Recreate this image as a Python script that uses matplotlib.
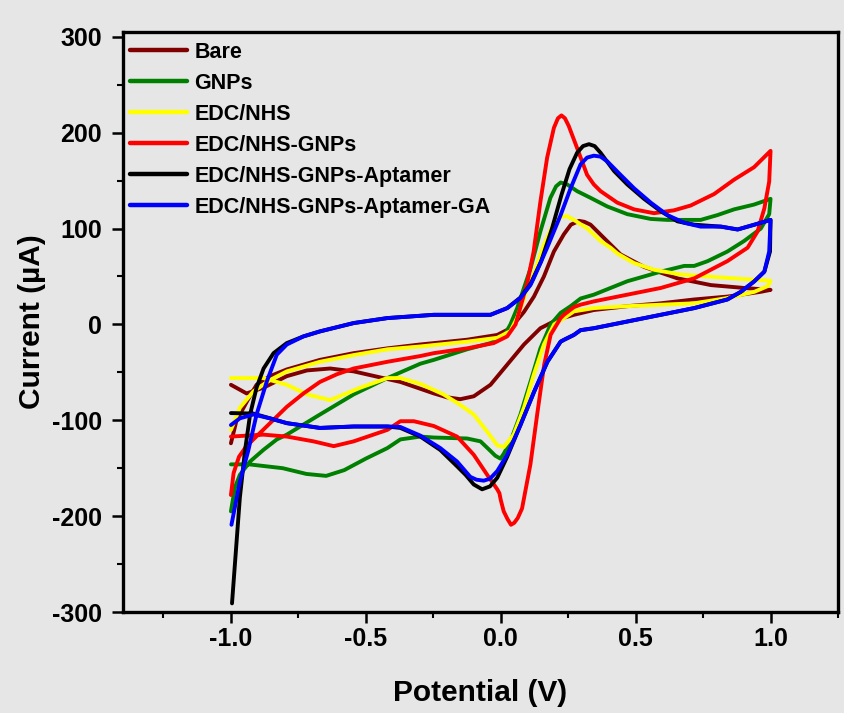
import matplotlib
matplotlib.use("Agg")
import matplotlib.pyplot as plt
from matplotlib.ticker import MultipleLocator, FormatStrFormatter

plt.rcParams['font.family'] = ['Liberation Sans', 'DejaVu Sans']
plt.rcParams['font.weight'] = 'bold'
plt.rcParams['axes.unicode_minus'] = False

# cyclic voltammograms: forward scan (-1 -> 1 V) then reverse scan (1 -> -1 V)
bare_v = [-1.0, -0.98, -0.94, -0.905, -0.855, -0.793, -0.67, -0.545, -0.42, -0.3, -0.125, -0.013,
          0.036, 0.086, 0.123, 0.16, 0.197, 0.234, 0.26, 0.29, 0.31, 0.333, 0.383, 0.444, 0.531, 0.655,
          0.779, 0.902, 1.0,
          0.964, 0.84, 0.717, 0.593, 0.469, 0.345, 0.271, 0.21, 0.147, 0.086, 0.024, -0.038, -0.1,
          -0.15, -0.2, -0.248, -0.372, -0.42, -0.545, -0.632, -0.718, -0.793, -0.879, -0.942, -1.0]
bare_i = [-124, -101, -80, -63, -54, -47, -37, -30, -25, -21, -16, -11,
          -4, 13, 29, 50, 76, 94, 104, 108, 107, 104, 90, 73, 60, 48,
          41, 38, 36,
          34, 29, 26, 22, 19, 15, 10, 5, -4, -21, -42, -63, -75,
          -78, -76, -72, -60, -57, -49, -46, -48, -54, -66, -72, -63]

gnps_v = [-1.0, -0.985, -0.967, -0.929, -0.88, -0.83, -0.793, -0.67, -0.545, -0.42, -0.298, -0.248,
          -0.125, -0.038, 0.011, 0.036, 0.061, 0.086, 0.11, 0.147, 0.184, 0.205, 0.222, 0.246,
          0.283, 0.333, 0.395, 0.469, 0.556, 0.618, 0.741, 0.803, 0.865, 0.939, 1.0,
          0.995, 0.964, 0.902, 0.84, 0.767, 0.717, 0.68, 0.593, 0.469, 0.345, 0.296, 0.259, 0.222,
          0.185, 0.147, 0.11, 0.073, 0.036, 0.011, -0.001, -0.02, -0.038, -0.075, -0.125, -0.248,
          -0.298, -0.372, -0.42, -0.5, -0.58, -0.647, -0.72, -0.808, -0.932, -1.0]
gnps_i = [-195, -170, -157, -143, -131, -120, -115, -94, -73, -56, -41, -37,
          -26, -19.5, -12.5, 0, 17, 38, 58, 97, 132, 144, 148, 146,
          139, 132, 123, 115, 110, 109, 109, 114, 120, 125, 131,
          115, 100, 87, 76, 66, 61, 61, 55, 45, 31, 27, 19, 12,
          0, -25, -60, -94, -122, -135, -140, -137, -132, -122, -119, -118,
          -117, -120, -129, -140, -152, -158, -156, -150, -146, -146]

edc_v = [-1.0, -0.967, -0.917, -0.855, -0.793, -0.67, -0.545, -0.42, -0.298, -0.125, -0.013, 0.036,
         0.061, 0.086, 0.098, 0.122, 0.16, 0.197, 0.222, 0.245, 0.271, 0.321, 0.37, 0.407, 0.432,
         0.469, 0.494, 0.568, 0.667, 0.766, 0.865, 0.939, 1.0,
         0.99, 0.94, 0.84, 0.717, 0.593, 0.469, 0.345, 0.271, 0.235, 0.198, 0.16, 0.123, 0.086,
         0.048, 0.011, -0.013, -0.05, -0.1, -0.15, -0.212, -0.298, -0.372, -0.42, -0.52, -0.632,
         -0.718, -0.793, -0.88, -1.0]
edc_i = [-110, -87, -70, -58, -49, -39, -32, -26, -23, -18, -14, -7,
         7, 27, 38, 52, 83, 106, 112, 113, 109, 100, 87, 80, 74,
         68, 64, 57, 52, 50, 48, 46.6, 45.5,
         40, 34, 27.5, 22, 20.5, 19, 17, 13.6, 6.6, 0, -21, -52, -87,
         -115, -128, -126, -112, -94, -84, -73, -62, -56, -56, -66, -79,
         -73, -63, -56, -56]

edc_gnps_v = [-1.0, -0.99, -0.97, -0.945, -0.917, -0.855, -0.793, -0.731, -0.67, -0.607, -0.545, -0.42,
              -0.298, -0.248, -0.125, -0.026, 0.024, 0.055, 0.079, 0.098, 0.122, 0.147, 0.172, 0.197,
              0.212, 0.225, 0.238, 0.252, 0.283, 0.32, 0.345, 0.37, 0.432, 0.494, 0.568, 0.642, 0.704,
              0.791, 0.865, 0.939, 1.0,
              0.995, 0.977, 0.952, 0.915, 0.84, 0.717, 0.593, 0.469, 0.345, 0.296, 0.271, 0.234, 0.222,
              0.185, 0.161, 0.135, 0.11, 0.079, 0.063, 0.05, 0.038, 0.025, 0.011, 0.0, -0.005, -0.013,
              -0.05, -0.1, -0.162, -0.248, -0.322, -0.372, -0.42, -0.545, -0.619, -0.694, -0.793, -0.88, -1.0]
edc_gnps_i = [-178, -155, -138, -128, -120, -103, -86, -72, -60, -52, -46, -39,
              -33, -30, -25, -19.5, -12.5, 0, 24, 43, 76, 128, 174, 205,
              215, 218, 215, 207, 184, 156, 146, 139, 127, 120, 116, 119, 124,
              136, 151, 164, 181,
              149, 121, 97, 80, 66, 48, 38, 31, 24, 20.6, 18, 10, 6.6,
              -10.8, -42, -94, -146, -192, -202, -207, -209, -203, -195, -183, -176, -172,
              -157, -136, -117, -106, -101, -101, -110, -122, -127, -122, -117, -115, -117]

apt_v = [-0.996, -0.967, -0.948, -0.929, -0.905, -0.879, -0.842, -0.793, -0.731, -0.67, -0.545, -0.42,
         -0.298, -0.248, -0.125, -0.038, 0.024, 0.073, 0.11, 0.15, 0.19, 0.225, 0.255, 0.283, 0.305,
         0.327, 0.348, 0.37, 0.42, 0.469, 0.531, 0.593, 0.655, 0.717, 0.816, 0.878, 0.94, 1.0,
         0.998, 0.977, 0.94, 0.89, 0.84, 0.717, 0.593, 0.469, 0.345, 0.296, 0.271, 0.235, 0.222,
         0.173, 0.124, 0.073, 0.024, -0.013, -0.04, -0.069, -0.1, -0.13, -0.162, -0.224, -0.298,
         -0.372, -0.42, -0.545, -0.67, -0.793, -0.855, -0.917, -1.0]
apt_i = [-291, -181, -132, -94, -66, -46, -30, -19.5, -12.5, -7.3, 1.4, 6.6,
         9, 10, 10, 10, 17, 28, 42, 66, 100, 135, 162, 179, 186,
         188, 186, 179, 160, 146, 131, 118, 107.5, 104, 102, 99, 104, 109,
         76, 55, 45, 34, 26, 17, 10, 3, -4, -6, -11, -16, -18,
         -39, -70, -105, -138, -160, -169, -172, -167, -157, -148, -131, -117,
         -108, -106.5, -106.5, -108, -103, -98, -93, -92.5]

apt_ga_v = [-0.998, -0.967, -0.936, -0.905, -0.867, -0.83, -0.793, -0.731, -0.67, -0.545, -0.42, -0.298,
            -0.248, -0.125, -0.038, 0.024, 0.073, 0.11, 0.122, 0.172, 0.222, 0.259, 0.296, 0.32, 0.345,
            0.37, 0.395, 0.444, 0.494, 0.556, 0.618, 0.68, 0.741, 0.816, 0.878, 0.94, 1.0,
            0.995, 0.977, 0.94, 0.89, 0.84, 0.717, 0.593, 0.469, 0.345, 0.296, 0.271, 0.235, 0.222,
            0.173, 0.124, 0.073, 0.024, -0.013, -0.04, -0.063, -0.09, -0.113, -0.162, -0.224, -0.298,
            -0.372, -0.42, -0.545, -0.67, -0.793, -0.855, -0.917, -0.967, -1.0]
apt_ga_i = [-209, -164, -132, -94, -59.5, -31.6, -21, -12.5, -7.3, 1.4, 6.6, 9,
            10, 10, 10, 17, 27.5, 41, 48, 80, 114, 142, 167, 174, 176,
            175, 170, 156, 142, 127, 114, 106, 102, 102, 99, 104, 109,
            76, 55, 45, 34, 26, 17, 10, 3, -4, -6, -11, -16, -18,
            -39, -70, -105, -136, -153, -161, -163, -162, -159, -143, -129, -116,
            -107, -106.5, -106.5, -108, -103, -98, -94, -98, -105]

labels = ['Bare', 'GNPs', 'EDC/NHS', 'EDC/NHS-GNPs', 'EDC/NHS-GNPs-Aptamer', 'EDC/NHS-GNPs-Aptamer-GA']
colors = ['#800000', '#008000', '#ffff00', '#ff0000', '#000000', '#0000ff']
series = [(bare_v, bare_i), (gnps_v, gnps_i), (edc_v, edc_i), (edc_gnps_v, edc_gnps_i),
          (apt_v, apt_i), (apt_ga_v, apt_ga_i)]

bg = '#e6e6e6'
fig = plt.figure(figsize=(8.45, 7.13), dpi=100, facecolor=bg)
ax = fig.add_axes([123 / 845, 1 - 612 / 713, 715 / 845, 580 / 713])
ax.set_facecolor(bg)

for (v, i), lab, c in zip(series, labels, colors):
    ax.plot(v, i, color=c, lw=2.8, label=lab, solid_joinstyle='round', solid_capstyle='round')

ax.set_xlim(-1.4, 1.25)
ax.set_ylim(-300, 305)
ax.xaxis.set_major_locator(MultipleLocator(0.5))
ax.xaxis.set_minor_locator(MultipleLocator(0.25))
ax.xaxis.set_major_formatter(FormatStrFormatter('%.1f'))
ax.yaxis.set_major_locator(MultipleLocator(100))
ax.yaxis.set_minor_locator(MultipleLocator(50))

for s in ax.spines.values():
    s.set_linewidth(2.4)
ax.tick_params(which='major', direction='out', length=8, width=1.8, labelsize=18)
ax.tick_params(which='minor', direction='out', length=4, width=1.5)
ax.tick_params(axis='x', which='major', pad=3)
ax.tick_params(axis='y', which='major', pad=7)
for t in ax.get_xticklabels() + ax.get_yticklabels():
    t.set_fontweight('bold')

ax.set_xlabel('Potential (V)', fontsize=21.5, fontweight='bold', labelpad=20)
ax.set_ylabel('Current (µA)', fontsize=21.5, fontweight='bold', labelpad=4)

leg = ax.legend(loc='upper left', bbox_to_anchor=(7 / 715, 1 - 10 / 580), frameon=False,
                borderpad=0, borderaxespad=0, handlelength=2.65, handletextpad=0.35,
                labelspacing=0.46, prop={'size': 15.5, 'weight': 'bold'})
for line in leg.get_lines():
    line.set_linewidth(3.2)

fig.savefig('out.png', dpi=100, facecolor=bg)
